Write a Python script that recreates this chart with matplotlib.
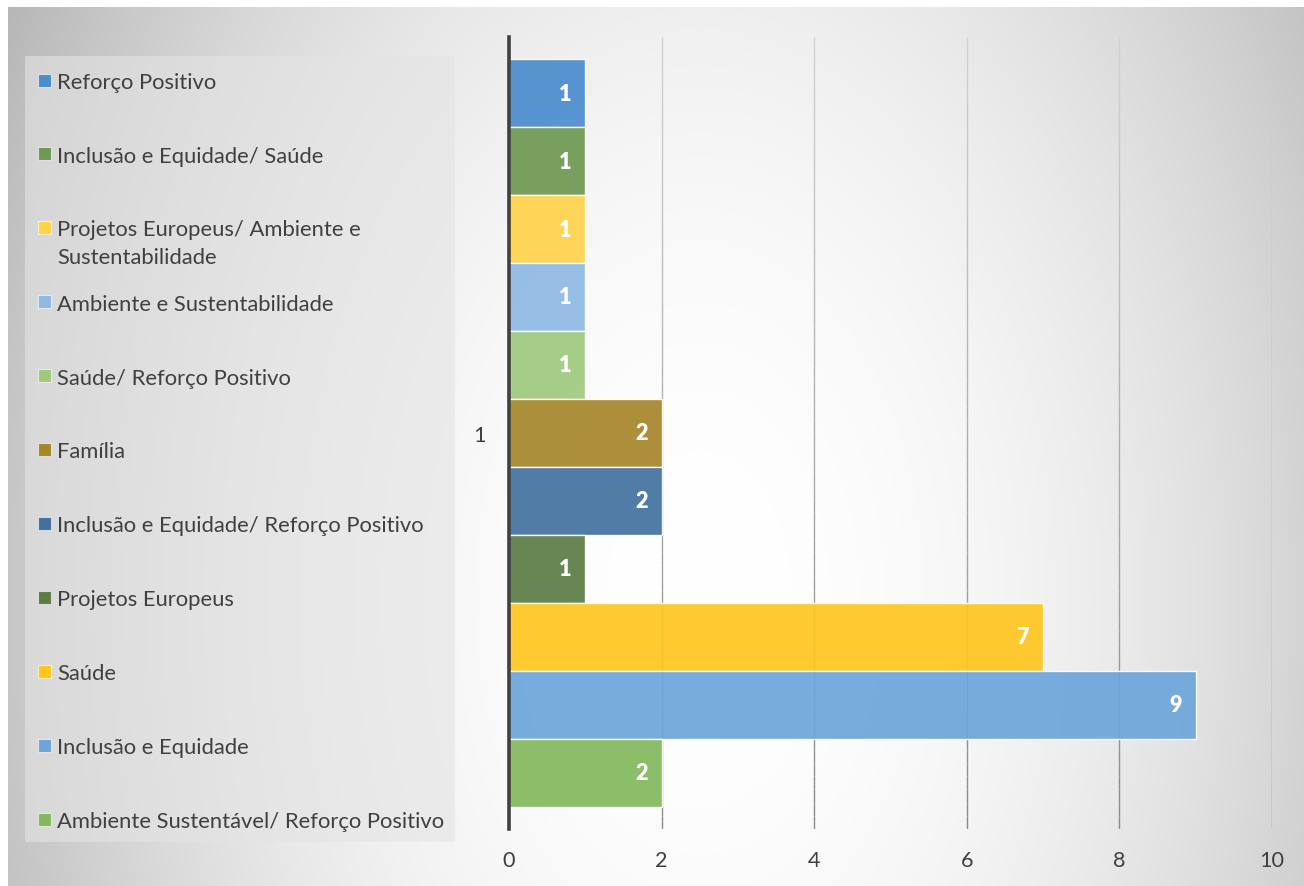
import numpy as np
import matplotlib
matplotlib.use("Agg")
import matplotlib.pyplot as plt
from matplotlib.collections import LineCollection
from matplotlib.patches import Rectangle
from matplotlib.transforms import offset_copy

# ---- data ----
categories = ["1"]
series_labels = [
    "Reforço Positivo",
    "Inclusão e Equidade/ Saúde",
    "Projetos Europeus/ Ambiente e\nSustentabilidade",
    "Ambiente e Sustentabilidade",
    "Saúde/ Reforço Positivo",
    "Família",
    "Inclusão e Equidade/ Reforço Positivo",
    "Projetos Europeus",
    "Saúde",
    "Inclusão e Equidade",
    "Ambiente Sustentável/ Reforço Positivo",
]
series_values = [1, 1, 1, 1, 1, 2, 2, 1, 7, 9, 2]
series_colors = [
    "#4A8CCD", "#6F9852", "#FFD34A", "#8FB9E3", "#9FCA7E", "#A6862A",
    "#41719E", "#5A7C45", "#FFC61E", "#6CA5DA", "#83B85C",
]
x_ticks = [0, 2, 4, 6, 8, 10]

plt.rcParams["font.family"] = ["Lato", "DejaVu Sans"]

W, H = 1304, 887
fig = plt.figure(figsize=(W / 100, H / 100), dpi=100)
fig.patch.set_facecolor("white")

# ---- background radial gradient ----
bg = fig.add_axes([8 / W, 0, 1 - 8 / W, (H - 8) / H])
bg.set_axis_off()
gx = np.linspace(8, W, 400)
gy = np.linspace(8, H, 300)
X, Y = np.meshgrid(gx, gy)
cx, cy, rx, ry = 700, 600, 780, 1250
d2 = ((X - cx) / rx) ** 2 + ((Y - cy) / ry) ** 2
v = np.clip(1 - 0.28 * d2, 0.72, 1.0)
img = np.dstack([v, v, v])
bg.imshow(img, aspect="auto", extent=[0, 1, 0, 1], origin="upper", interpolation="bilinear")
bg.set_xlim(0, 1)
bg.set_ylim(0, 1)

# ---- legend box (manual) ----
def fx(px):
    return px / W

def fy(py):
    return 1 - py / H

fig.patches.append(Rectangle((fx(25), fy(843)), fx(455) - fx(25), fy(57) - fy(843),
                             transform=fig.transFigure, facecolor="#e4e4e4", alpha=0.6,
                             edgecolor="none", zorder=1))
for i, (lab, col) in enumerate(zip(series_labels, series_colors)):
    ycen = 81 + 73.9 * i
    nl = lab.count("\n")
    fig.patches.append(Rectangle((fx(38), fy(ycen + 6.5)), fx(51) - fx(38), fy(ycen - 6.5) - fy(ycen + 6.5),
                                 transform=fig.transFigure, facecolor=col, edgecolor=(1, 1, 1, 0.6),
                                 linewidth=0.8, zorder=2))
    fig.text(fx(57), fy(ycen + 9.5 * nl), lab, ha="left", va="center_baseline", fontsize=15.8,
             color="#404040", linespacing=1.5, zorder=3)

# ---- main axes ----
ax = fig.add_axes([fx(509), fy(830), fx(1272) - fx(509), fy(38) - fy(830)])
ax.patch.set_alpha(0)
ypos = np.arange(len(series_values))
bars = ax.barh(ypos, series_values, height=1.0, color=series_colors, alpha=0.92,
               edgecolor=(1, 1, 1, 0.55), linewidth=1.0, zorder=3)
ax.set_xlim(0, 10)
pad = 22 / 68
ax.set_ylim(len(series_values) - 0.5 + pad, -0.5 - pad)

# gradient gridlines
segs, cols = [], []
nseg = 60
ylo, yhi = ax.get_ylim()
for xt in x_ticks[1:]:
    ys = np.linspace(yhi, ylo, nseg + 1)
    for k in range(nseg):
        segs.append([(xt, ys[k]), (xt, ys[k + 1])])
        t = k / nseg
        g = 0.82 - 0.28 * t
        cols.append((g, g, g, 1))
ax.add_collection(LineCollection(segs, colors=cols, linewidths=1.0, zorder=1))

ax.set_xticks(x_ticks)
ax.set_xticklabels([str(t) for t in x_ticks])
ax.set_yticks([np.mean(ypos)])
ax.set_yticklabels(categories)
ax.tick_params(axis="both", length=0, labelsize=15.6, labelcolor="#404040")
ax.tick_params(axis="x", pad=15)
ax.tick_params(axis="y", pad=17)
for s in ["top", "right", "bottom"]:
    ax.spines[s].set_visible(False)
ax.spines["left"].set_color("#404040")
ax.spines["left"].set_linewidth(2.6)
ax.spines["left"].set_zorder(5)

tr = offset_copy(ax.transData, fig=fig, x=-14, y=0, units="dots")
for yi, val in zip(ypos, series_values):
    ax.text(val, yi, str(val), transform=tr, ha="right", va="center",
            color="white", fontsize=15.6, fontweight="heavy", zorder=6)

fig.savefig("out.png", dpi=100)
